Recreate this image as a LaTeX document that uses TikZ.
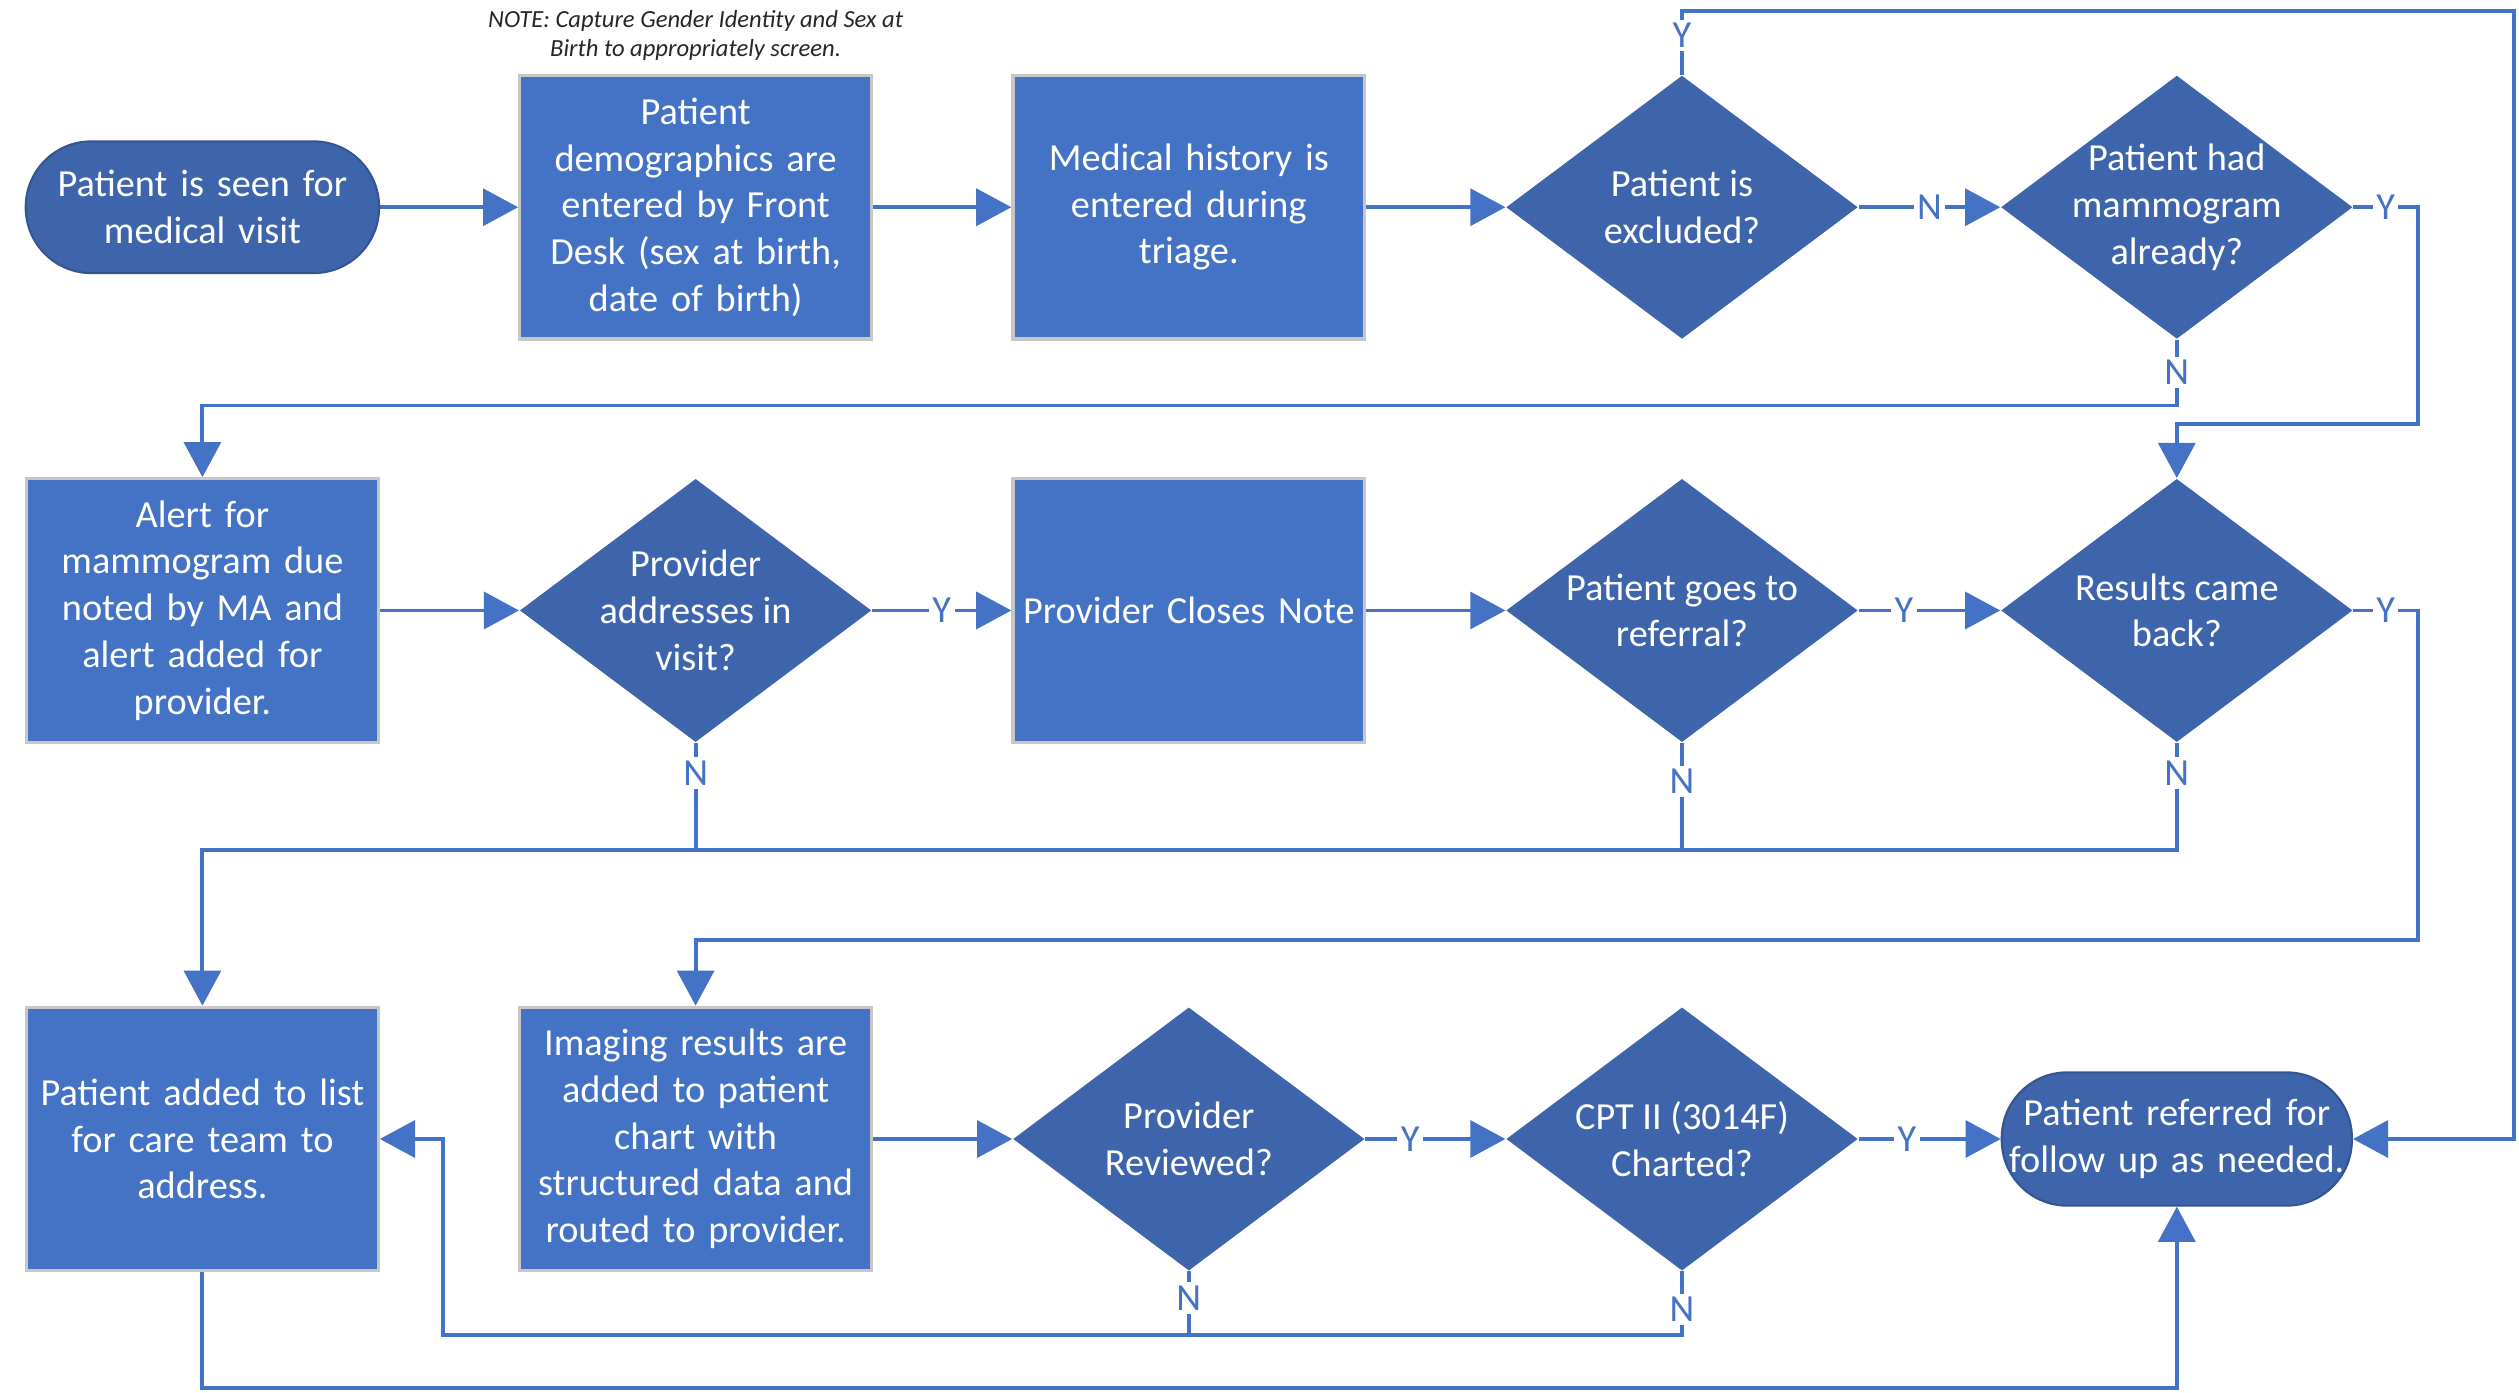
\documentclass[tikz,border=0pt]{standalone}
\usepackage{fontspec}
\setmainfont{Carlito}
\usetikzlibrary{shapes.geometric,arrows.meta}
\definecolor{boxblue}{HTML}{4472C4}
\definecolor{dblue}{HTML}{3E64AC}
\definecolor{lblue}{HTML}{4472C4}
\begin{document}
\begin{tikzpicture}[x=0.016065cm,y=-0.016065cm,
 every node/.style={font=\fontsize{10.9}{13.3}\selectfont, text=white, align=center},
 procbox/.style={rectangle, fill=boxblue, draw=black!22, line width=0.9pt, minimum width=3.518cm, minimum height=2.635cm, text width=3.4cm, inner sep=0pt},
 decis/.style={diamond, fill=dblue, minimum width=3.518cm, minimum height=2.635cm, inner sep=0pt},
 dtext/.style={text=white, align=center, inner sep=0pt},
 term/.style={rectangle, rounded corners=0.655cm, fill=dblue, draw=dblue!85!black, line width=0.6pt, minimum width=3.534cm, minimum height=1.317cm, inner sep=0pt, text width=3.45cm},
 conn/.style={draw=lblue, line width=1.1pt},
 arr/.style={conn, -{Triangle[length=10pt,width=10.5pt]}},
 lab/.style={fill=white, text=lblue, inner sep=1pt, font=\fontsize{10.9}{13}\selectfont}
]
\useasboundingbox (0,0) rectangle (1568,866.5);

% note
\node[text=black!85, font=\fontsize{7}{8.2}\selectfont\itshape] (note) at (433,22) {NOTE: Capture Gender Identity and Sex at\\Birth to appropriately screen.};

% row 1
\node[term] (start) at (126,129) {Patient is seen for\\medical visit};
\node[procbox] (demo) at (433,129) {Patient\\demographics are\\entered by Front\\Desk (sex at birth,\\date of birth)};
\node[procbox] (hist) at (740,129) {Medical history is\\entered during\\triage.};
\node[decis, label={[dtext]center:Patient is\\excluded?}] (excl) at (1047,129) {};
\node[decis, label={[dtext]center:Patient had\\mammogram\\already?}] (mamm) at (1355,129) {};

% row 2
\node[procbox] (alert) at (126,380) {Alert for\\mammogram due\\noted by MA and\\alert added for\\provider.};
\node[decis, label={[dtext]center:Provider\\addresses in\\visit?}] (addr) at (433,380) {};
\node[procbox] (close) at (740,380) {Provider Closes Note};
\node[decis, label={[dtext]center:Patient goes to\\referral?}] (ref) at (1047,380) {};
\node[decis, label={[dtext]center:Results came\\back?}] (res) at (1355,380) {};

% row 3
\node[procbox] (list) at (126,709) {Patient added to list\\for care team to\\address.};
\node[procbox] (img) at (433,709) {Imaging results are\\added to patient\\chart with\\structured data and\\routed to provider.};
\node[decis, label={[dtext]center:Provider\\Reviewed?}] (rev) at (740,709) {};
\node[decis, label={[dtext]center:CPT II (3014F)\\Charted?}] (cpt) at (1047,709) {};
\node[term, minimum width=3.502cm, minimum height=1.333cm] (fol) at (1355,709) {Patient referred for\\follow up as needed.};

% routing coordinates
\coordinate (topright) at (1565,7);
\coordinate (mYr) at (1505,129);
\coordinate (mYd) at (1505,264);
\coordinate (rYr) at (1505,380);
\coordinate (rYd) at (1505,585);
\coordinate (nrow2) at (126,529);
\coordinate (nrow3) at (276,831);
\coordinate (bottom) at (126,864);

% row 1 flow
\draw[arr] (start) -- (demo);
\draw[arr] (demo) -- (hist);
\draw[arr] (hist) -- (excl);
\draw[arr] (excl) -- node[lab]{N} (mamm);
\draw[arr] (excl.north) -- node[lab, pos=0.62]{Y} (excl.north |- topright) -- (topright) |- (fol.east);
\draw[arr] (mamm.south) -- node[lab, pos=0.5]{N} ++(0,41) -| (alert.north);
\draw[arr] (mamm.east) -- node[lab]{Y} (mYr) -- (mYd) -| (res.north);

% row 2 flow
\draw[arr] (alert) -- (addr);
\draw[arr] (addr) -- node[lab]{Y} (close);
\draw[arr] (close) -- (ref);
\draw[arr] (ref) -- node[lab, pos=0.32]{Y} (res);
\draw[arr] (res.east) -- node[lab]{Y} (rYr) -- (rYd) -| (img.north);
\draw[arr] (res.south) -- node[lab, pos=0.28]{N} (res.south |- nrow2) -- (nrow2) -- (list.north);
\draw[conn] (addr.south) -- node[lab, pos=0.28]{N} (addr.south |- nrow2);
\draw[conn] (ref.south) -- node[lab, pos=0.36]{N} (ref.south |- nrow2);

% row 3 flow
\draw[arr] (img) -- (rev);
\draw[arr] (rev) -- node[lab, pos=0.32]{Y} (cpt);
\draw[arr] (cpt) -- node[lab, pos=0.34]{Y} (fol);
\draw[conn] (rev.south) -- node[lab, pos=0.42]{N} (rev.south |- nrow3);
\draw[arr] (cpt.south) -- node[lab, pos=0.6]{N} (cpt.south |- nrow3) -- (nrow3) -- (nrow3 |- list.east) -- (list.east);
\draw[arr] (list.south) -- (bottom) -| (fol.south);
\end{tikzpicture}
\end{document}
